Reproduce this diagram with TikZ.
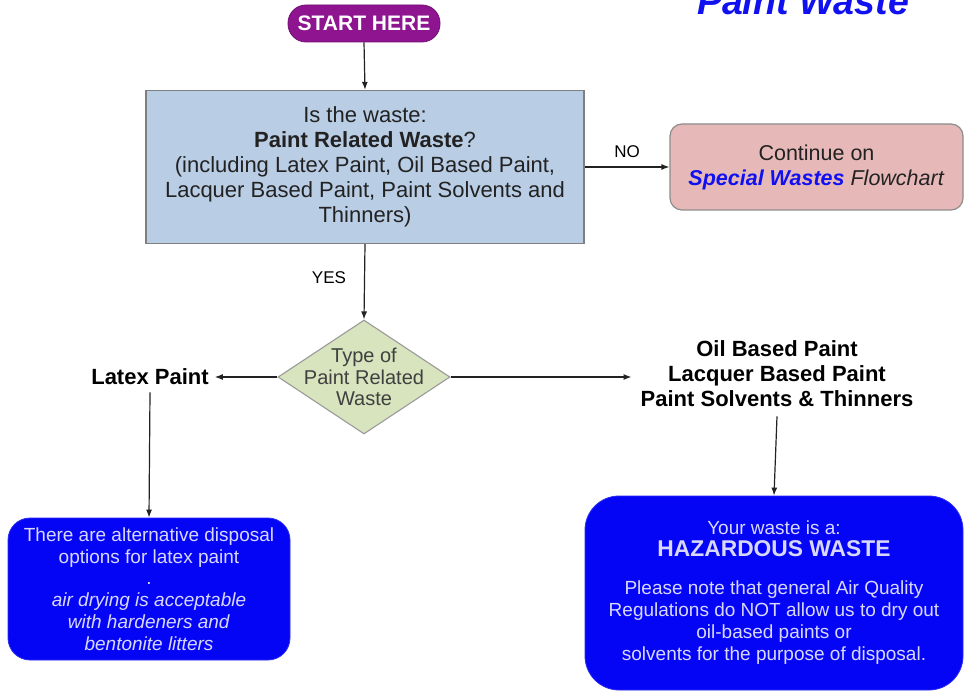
\documentclass[tikz,border=0pt]{standalone}
\usepackage{fontspec}
\setmainfont{Liberation Sans}
\usetikzlibrary{shapes.geometric,arrows.meta}
\definecolor{pillpurple}{HTML}{8E1490}
\definecolor{qblue}{HTML}{B9CDE5}
\definecolor{qborder}{HTML}{7F7F7F}
\definecolor{pinkfill}{HTML}{E6B9B8}
\definecolor{pinkborder}{HTML}{8C8C8C}
\definecolor{sagefill}{HTML}{D7E4BD}
\definecolor{sageborder}{HTML}{9A9A9A}
\definecolor{deepblue}{HTML}{0505F5}
\definecolor{paletext}{HTML}{D8D8FF}
\definecolor{linkblue}{HTML}{1010F0}
\definecolor{inkgray}{HTML}{222222}
\begin{document}
\begin{tikzpicture}[x=1pt,y=-1pt,
  arr/.style={draw=inkgray,line width=1.2pt,-{Latex[length=8pt,width=6pt]}},
  qbox/.style={draw=qborder,line width=1.3pt,fill=qblue,minimum width=438pt,minimum height=153pt,
    align=center,text=inkgray,inner sep=0pt},
  contbox/.style={draw=pinkborder,line width=1.2pt,fill=pinkfill,rounded corners=12pt,
    minimum width=293pt,minimum height=86pt,align=center,text=inkgray,inner sep=0pt},
  pill/.style={fill=pillpurple,draw=pillpurple!80!black,line width=0.8pt,rounded corners=18pt,
    minimum width=152pt,minimum height=37pt,text=white,inner sep=0pt},
  typedia/.style={diamond,draw=sageborder,line width=1.1pt,fill=sagefill,
    minimum width=172pt,minimum height=114pt,inner sep=0pt},
  bluebox/.style={fill=deepblue,draw=deepblue!85!white,line width=0.8pt,align=center,
    text=paletext,inner sep=0pt},
  plain/.style={align=center,text=black,inner sep=1pt},
  lbl/.style={text=black,inner sep=0pt}
]
\useasboundingbox (0,0) rectangle (964,692);
\fill[white] (0,0) rectangle (964,692);
\begin{scope}
\clip (0,0) rectangle (964,692);

% heading, running off the top edge
\node[anchor=base,text=linkblue,font=\fontsize{37.5}{40}\selectfont\bfseries\itshape] (title) at (803,15) {Paint Waste};

% start pill
\node[pill,font=\fontsize{21}{24}\selectfont\bfseries] (start) at (364,23.5) {START HERE};

% main question box
\node[qbox,font=\fontsize{22}{25}\selectfont] (main) at (365,167)
  {Is the waste:\\ \textbf{Paint Related Waste}?\\ (including Latex Paint, Oil Based Paint,\\
   Lacquer Based Paint, Paint Solvents and\\ Thinners)};

% redirect box
\node[contbox,font=\fontsize{21.5}{25}\selectfont] (cont) at (816.5,167)
  {Continue on\\ {\color{linkblue}\bfseries\itshape Special Wastes} \textit{Flowchart}};

% decision diamond
\node[typedia] (dia) at (364,377) {};
\node[align=center,text=black!75,font=\fontsize{20}{21.5}\selectfont,inner sep=0pt] (diatext) at (dia.center)
  {Type of\\ Paint Related\\ Waste};

% branch labels
\node[plain,inner xsep=6pt,font=\fontsize{22}{25}\selectfont\bfseries] (latex) at (150,377) {Latex Paint};
\node[plain,font=\fontsize{22}{25}\selectfont\bfseries] (oil) at (777,374)
  {Oil Based Paint\\ Lacquer Based Paint\\ Paint Solvents \& Thinners};

% outcome boxes
\node[bluebox,rounded corners=22pt,minimum width=282pt,minimum height=142pt,
  font=\fontsize{19}{21.8}\selectfont] (lbox) at (149,589)
  {There are alternative disposal\\ options for latex paint\\ .\\
   \textit{air drying is acceptable}\\ \textit{with hardeners and}\\ \textit{bentonite litters}};
\node[bluebox,rounded corners=34pt,minimum width=378pt,minimum height=194pt,
  font=\fontsize{19}{22}\selectfont] (rbox) at (774,593)
  {Your waste is a:\\ {\fontsize{22.8}{26}\selectfont\bfseries HAZARDOUS WASTE}\\[16pt]
   Please note that general Air Quality\\ Regulations do NOT allow us to dry out\\
   oil-based paints or\\ solvents for the purpose of disposal.};

% connectors
\draw[arr] (start.south) -- (main.north);
\draw[arr] (main.east) -- node[lbl,above=9pt,font=\fontsize{17}{19}\selectfont] (nolbl) {NO} (cont.west);
\draw[arr] (main.south) -- node[lbl,pos=0.45,left=18pt,font=\fontsize{17}{19}\selectfont] (yeslbl) {YES} (dia.north);
\draw[arr] (dia.west) -- (dia.west -| latex.east);
\draw[arr] (dia.east) -- ([xshift=-8pt]dia.east -| oil.west);
\draw[arr] ([yshift=-6pt]latex.south) -- (lbox.north);
\draw[arr] ([yshift=-8pt]oil.south) -- (rbox.north);
\end{scope}
\end{tikzpicture}
\end{document}
